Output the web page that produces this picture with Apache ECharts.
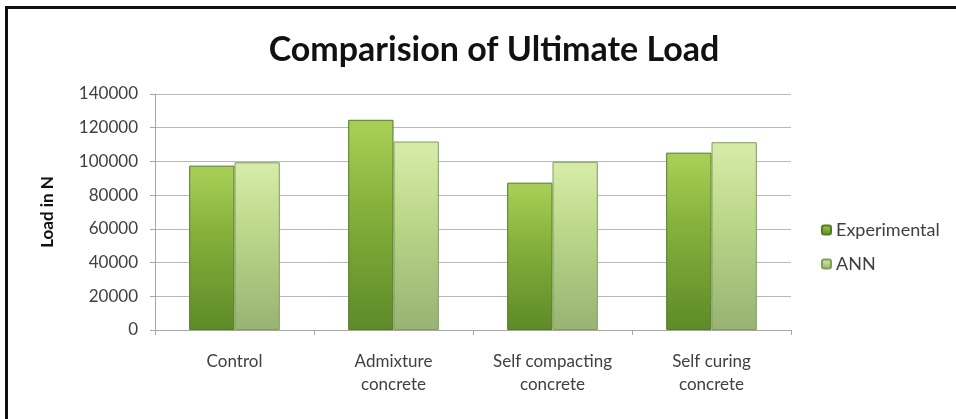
<!DOCTYPE html>
<html><head><meta charset="utf-8">
<script src="https://cdn.jsdelivr.net/npm/echarts@6/dist/echarts.min.js"></script>
<style>html,body{margin:0;padding:0;background:#fff;}#c{width:956px;height:419px;}
#frame{position:absolute;left:5px;top:6px;width:980px;height:440px;border:3px solid #111;box-sizing:border-box;pointer-events:none;}</style>
</head><body>
<div id="c"></div><div id="frame"></div>
<script>
const categories = ['Control', 'Admixture\nconcrete', 'Self compacting\nconcrete', 'Self curing\nconcrete'];
const experimental = [97500, 124700, 87400, 105200];
const ann = [99500, 111800, 99800, 111400];
const seriesNames = ['Experimental', 'ANN'];

function grad(top, mid, bottom){
  return new echarts.graphic.LinearGradient(0,0,0,1,[{offset:0,color:top},{offset:0.05,color:top},{offset:0.4,color:mid},{offset:1,color:bottom}]);
}
const chart = echarts.init(document.getElementById('c'));
chart.setOption({
  animation:false,
  title:{text:'Comparision of Ultimate Load',left:489,textAlign:'center',top:28,
    textStyle:{fontFamily:'Lato',fontWeight:'bold',fontSize:34,color:'#111'}},
  legend:{orient:'vertical',left:816,top:216,itemWidth:9,itemHeight:9,itemGap:16,
    textStyle:{fontFamily:'Lato',fontSize:18,color:'#404040'},data:seriesNames},
  grid:{left:155,right:165,top:94,bottom:89},
  xAxis:{type:'category',data:categories,
    axisLine:{lineStyle:{color:'#a6a6a6'}},
    axisTick:{show:true,length:5,lineStyle:{color:'#a6a6a6'}},
    axisLabel:{fontFamily:'Lato',fontSize:17,color:'#404040',margin:20,lineHeight:23}},
  yAxis:{type:'value',min:0,max:140000,interval:20000,
    name:'Load in N',nameLocation:'middle',nameGap:99,
    nameTextStyle:{fontFamily:'Lato',fontWeight:'bold',fontSize:17,color:'#111'},
    axisLine:{show:true,lineStyle:{color:'#a6a6a6'}},
    axisTick:{show:true,length:5,lineStyle:{color:'#a6a6a6'}},
    splitLine:{lineStyle:{color:'#b8b8b8'}},
    axisLabel:{fontFamily:'Lato',fontSize:17,color:'#404040',margin:17,formatter:v=>String(v)}},
  series:[
    {name:seriesNames[0],type:'bar',data:experimental,barGap:'0%',barCategoryGap:'43%',
      itemStyle:{color:grad('#a6cd55','#86b23c','#5e8a29'),borderColor:'#557a25',borderWidth:1}},
    {name:seriesNames[1],type:'bar',data:ann,
      itemStyle:{color:grad('#d4eaa6','#bcd88a','#98b373'),borderColor:'#809d5c',borderWidth:1}}
  ]
});
</script></body></html>
